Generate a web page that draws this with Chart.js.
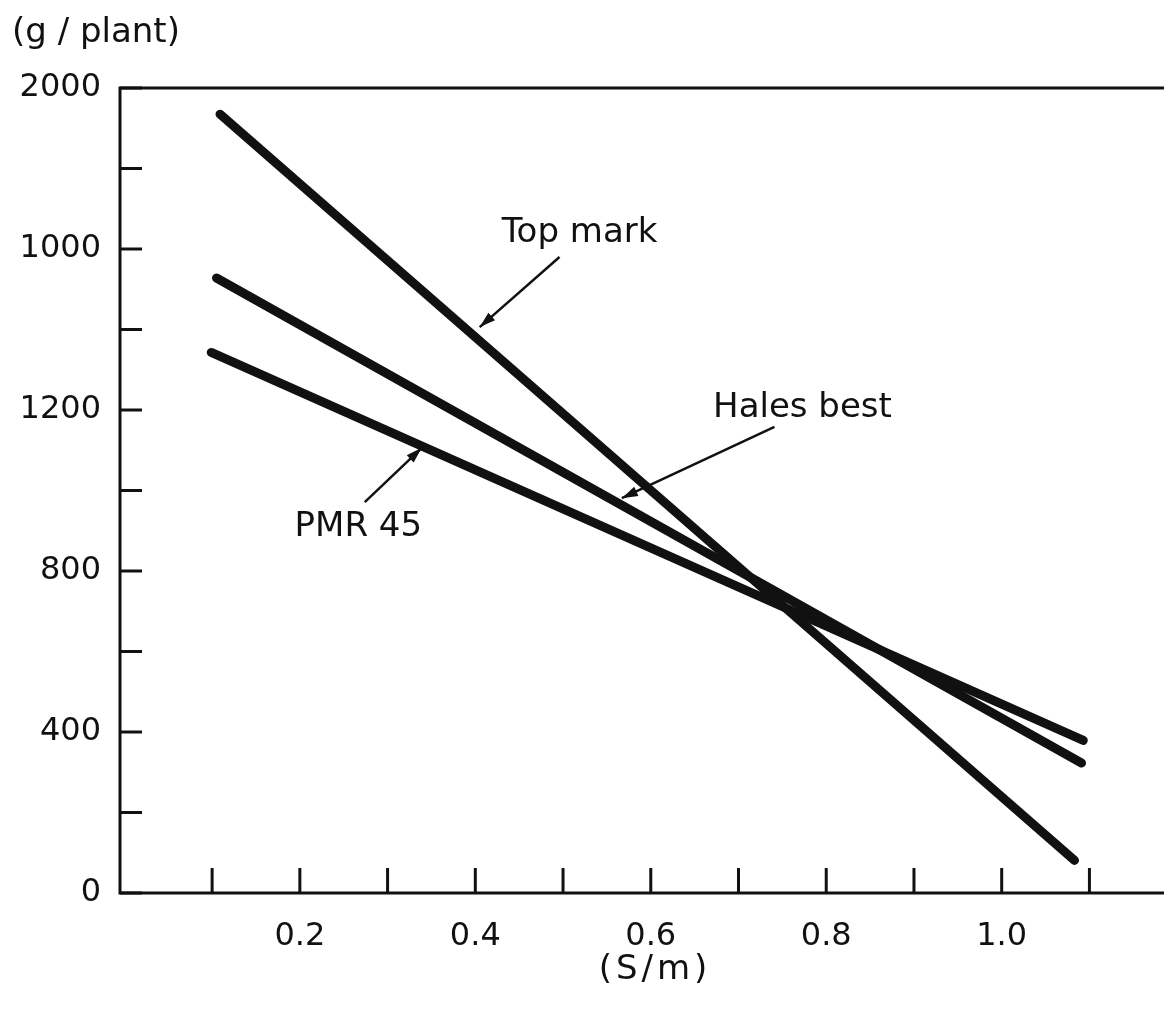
<!DOCTYPE html>
<html>
<head>
<meta charset="utf-8">
<script src="https://cdn.jsdelivr.net/npm/chart.js@4.4.0/dist/chart.umd.min.js"></script>
<style>
  html, body { margin: 0; padding: 0; background: #fff; }
</style>
</head>
<body>
<canvas id="chart" width="1164" height="1012"></canvas>
<script>
// values
const seriesNames = ['Top mark', 'Hales best', 'PMR 45'];
const topMarkX = [0.109, 1.083];
const topMarkY = [1935, 81];
const halesBestX = [0.105, 1.091];
const halesBestY = [1528, 323];
const pmr45X = [0.099, 1.093];
const pmr45Y = [1343, 379];

const xTickValues = [0.1, 0.2, 0.3, 0.4, 0.5, 0.6, 0.7, 0.8, 0.9, 1.0, 1.1];
const xTickLabels = ['', '0.2', '', '0.4', '', '0.6', '', '0.8', '', '1.0', ''];
const yTickValues = [0, 200, 400, 600, 800, 1000, 1200, 1400, 1600, 1800, 2000];
const yTickLabels = ['0', '', '400', '', '800', '', '1200', '', '1000', '', '2000'];

// callout text and arrows (data units)
const noteTextX = [0.43, 0.671, 0.194];
const noteTextY = [1640, 1205, 909];
const arrowFromX = [0.496, 0.741, 0.274];
const arrowFromY = [1580, 1158, 971];
const arrowToX = [0.405, 0.567, 0.339];
const arrowToY = [1406, 981, 1106];

const ink = '#111';
const fontFamily = '"DejaVu Sans", sans-serif';

function pts(xs, ys) {
  return xs.map((x, i) => ({ x: x, y: ys[i] }));
}

const lineStyle = {
  borderColor: ink,
  borderWidth: 9,
  borderCapStyle: 'round',
  pointRadius: 0,
  fill: false,
  tension: 0
};

function arrow(ctx, x1, y1, x2, y2) {
  ctx.beginPath();
  ctx.moveTo(x1, y1);
  ctx.lineTo(x2, y2);
  ctx.stroke();
  const a = Math.atan2(y2 - y1, x2 - x1);
  const len = 16, half = 5;
  ctx.beginPath();
  ctx.moveTo(x2, y2);
  ctx.lineTo(x2 - len * Math.cos(a) + half * Math.sin(a), y2 - len * Math.sin(a) - half * Math.cos(a));
  ctx.lineTo(x2 - len * Math.cos(a) - half * Math.sin(a), y2 - len * Math.sin(a) + half * Math.cos(a));
  ctx.closePath();
  ctx.fill();
}

const decorations = {
  id: 'decorations',
  afterDatasetsDraw(chart) {
    const { ctx, chartArea: a, scales: { x, y } } = chart;
    ctx.save();
    ctx.strokeStyle = ink;
    ctx.fillStyle = ink;
    ctx.lineWidth = 3;
    ctx.lineCap = 'butt';

    // frame (left, top, bottom)
    ctx.beginPath();
    ctx.moveTo(a.right, a.top);
    ctx.lineTo(a.left, a.top);
    ctx.lineTo(a.left, a.bottom);
    ctx.lineTo(a.right, a.bottom);
    ctx.stroke();

    // inward tick marks
    yTickValues.forEach(v => {
      const py = y.getPixelForValue(v);
      ctx.beginPath();
      ctx.moveTo(a.left, py);
      ctx.lineTo(a.left + 22, py);
      ctx.stroke();
    });
    xTickValues.forEach(v => {
      const px = x.getPixelForValue(v);
      ctx.beginPath();
      ctx.moveTo(px, a.bottom);
      ctx.lineTo(px, a.bottom - 25);
      ctx.stroke();
    });

    // axis titles
    ctx.font = '34px ' + fontFamily;
    ctx.textBaseline = 'middle';
    ctx.textAlign = 'left';
    ctx.fillText('(g / plant)', 12, 33);
    ctx.textAlign = 'center';
    ctx.letterSpacing = '4px';
    ctx.fillText('(S/m)', 655, 970);
    ctx.letterSpacing = '0px';

    // callouts
    ctx.textAlign = 'left';
    ctx.lineWidth = 2.5;
    seriesNames.forEach((name, i) => {
      ctx.fillText(name, x.getPixelForValue(noteTextX[i]), y.getPixelForValue(noteTextY[i]));
      arrow(ctx,
        x.getPixelForValue(arrowFromX[i]), y.getPixelForValue(arrowFromY[i]),
        x.getPixelForValue(arrowToX[i]), y.getPixelForValue(arrowToY[i]));
    });
    ctx.restore();
  }
};

new Chart(document.getElementById('chart').getContext('2d'), {
  type: 'line',
  data: {
    datasets: [
      Object.assign({ label: seriesNames[0], data: pts(topMarkX, topMarkY) }, lineStyle),
      Object.assign({ label: seriesNames[1], data: pts(halesBestX, halesBestY) }, lineStyle),
      Object.assign({ label: seriesNames[2], data: pts(pmr45X, pmr45Y) }, lineStyle)
    ]
  },
  plugins: [decorations],
  options: {
    responsive: false,
    animation: false,
    layout: { padding: { top: 88, left: 0, right: 0, bottom: 0 } },
    plugins: {
      legend: { display: false },
      tooltip: { enabled: false }
    },
    scales: {
      x: {
        type: 'linear',
        min: -0.005,
        max: 1.185,
        afterBuildTicks: s => { s.ticks = xTickValues.map(v => ({ value: v })); },
        afterFit: s => { s.height = 1012 - 893; },
        grid: { display: false, drawTicks: false },
        border: { display: false },
        ticks: {
          callback: (v, i) => xTickLabels[i],
          autoSkip: false,
          maxRotation: 0,
          padding: 24,
          color: ink,
          font: { family: fontFamily, size: 32 }
        }
      },
      y: {
        type: 'linear',
        min: 0,
        max: 2000,
        afterBuildTicks: s => { s.ticks = yTickValues.map(v => ({ value: v })); },
        afterFit: s => { s.width = 120; },
        grid: { display: false, drawTicks: false },
        border: { display: false },
        ticks: {
          callback: (v, i) => yTickLabels[i],
          autoSkip: false,
          padding: 19,
          color: ink,
          font: { family: fontFamily, size: 32 }
        }
      }
    }
  }
});
</script>
</body>
</html>
